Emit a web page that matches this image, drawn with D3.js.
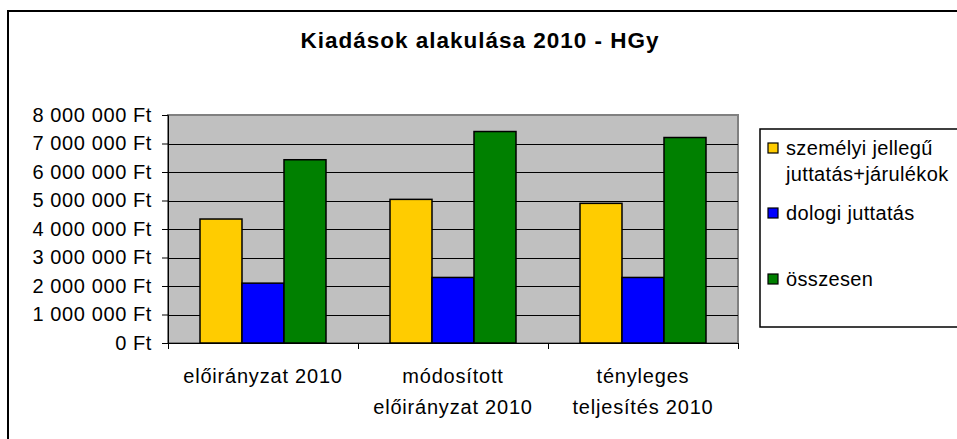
<!DOCTYPE html>
<html>
<head>
<meta charset="utf-8">
<script src="https://cdn.jsdelivr.net/npm/d3@7"></script>
<style>
  body { margin: 0; background: #fff; }
  svg { display: block; font-family: "Liberation Sans", Arial, sans-serif; }
</style>
</head>
<body>
<div id="chart"></div>
<script>
// data
var categories = [["előirányzat 2010"], ["módosított", "előirányzat 2010"], ["tényleges", "teljesítés 2010"]];
var seriesNames = [["személyi jellegű", "juttatás+járulékok"], ["dologi juttatás"], ["összesen"]];
var seriesColors = ["#ffcc00", "#0000ff", "#008000"];
var szemelyi = [4350000, 5040000, 4900000];
var dologi = [2100000, 2300000, 2300000];
var osszesen = [6430000, 7420000, 7210000];
var yTicks = [0, 1000000, 2000000, 3000000, 4000000, 5000000, 6000000, 7000000, 8000000];

var series = [szemelyi, dologi, osszesen];

var W = 957, H = 439;
var plot = { left: 168, top: 115, right: 738, bottom: 343 };

var svg = d3.select("#chart").append("svg")
    .attr("width", W)
    .attr("height", H);

// outer chart frame
svg.append("rect")
    .attr("x", 8).attr("y", 11)
    .attr("width", W + 20).attr("height", H + 20)
    .attr("fill", "#fff")
    .attr("stroke", "#000")
    .attr("stroke-width", 2);

// title
svg.append("text")
    .attr("x", 480).attr("y", 48)
    .attr("text-anchor", "middle")
    .attr("font-size", 22.5)
    .attr("font-weight", "bold")
    .attr("letter-spacing", 1)
    .text("Kiadások alakulása 2010 - HGy");

var x0 = d3.scaleBand()
    .domain(d3.range(categories.length))
    .range([plot.left, plot.right]);

var x1 = d3.scaleBand()
    .domain(d3.range(series.length))
    .range([32, x0.bandwidth() - 32]);

var y = d3.scaleLinear()
    .domain([0, 8000000])
    .range([plot.bottom, plot.top]);

// plot background
svg.append("rect")
    .attr("x", plot.left).attr("y", plot.top)
    .attr("width", plot.right - plot.left)
    .attr("height", plot.bottom - plot.top)
    .attr("fill", "#c0c0c0")
    .attr("stroke", "#808080")
    .attr("stroke-width", 2);

// gridlines
svg.append("g")
    .selectAll("line")
    .data(yTicks.slice(1, -1))
    .enter()
    .append("line")
    .attr("x1", plot.left).attr("x2", plot.right)
    .attr("y1", function (d) { return Math.round(y(d)) + 0.5; })
    .attr("y2", function (d) { return Math.round(y(d)) + 0.5; })
    .attr("stroke", "#000")
    .attr("stroke-width", 1);

// bars
var groups = svg.append("g")
    .selectAll("g")
    .data(categories)
    .enter()
    .append("g")
    .attr("transform", function (d, i) { return "translate(" + x0(i) + ",0)"; });

groups.selectAll("rect")
    .data(function (d, i) { return series.map(function (s, j) { return { s: j, v: s[i] }; }); })
    .enter()
    .append("rect")
    .attr("x", function (d) { return x1(d.s); })
    .attr("y", function (d) { return y(d.v); })
    .attr("width", x1.bandwidth())
    .attr("height", function (d) { return y(0) - y(d.v); })
    .attr("fill", function (d) { return seriesColors[d.s]; })
    .attr("stroke", "#000")
    .attr("stroke-width", 1.5);

// y axis
var yAxis = svg.append("g")
    .attr("transform", "translate(" + plot.left + ",0)")
    .call(d3.axisLeft(y)
        .tickValues(yTicks)
        .tickSize(6)
        .tickPadding(10)
        .tickFormat(function (d) { return d3.format(",")(d).replace(/,/g, " ") + " Ft"; }));
yAxis.select(".domain").attr("stroke", "#000");
yAxis.selectAll("text")
    .attr("font-family", "Liberation Sans, Arial, sans-serif")
    .attr("font-size", 20)
    .attr("letter-spacing", 0.6)
    .attr("fill", "#000");

// x axis: ticks on category boundaries
var xAxis = svg.append("g")
    .attr("transform", "translate(0," + plot.bottom + ")");
xAxis.append("line")
    .attr("x1", plot.left).attr("x2", plot.right)
    .attr("y1", 0.5).attr("y2", 0.5)
    .attr("stroke", "#000");
xAxis.selectAll("line.tick")
    .data(d3.range(categories.length + 1))
    .enter()
    .append("line")
    .attr("class", "tick")
    .attr("x1", function (d) { return Math.round(plot.left + d * x0.step()) + 0.5; })
    .attr("x2", function (d) { return Math.round(plot.left + d * x0.step()) + 0.5; })
    .attr("y1", 0).attr("y2", 6)
    .attr("stroke", "#000");

xAxis.selectAll("text")
    .data(categories)
    .enter()
    .append("text")
    .attr("text-anchor", "middle")
    .attr("font-size", 20)
    .attr("letter-spacing", 0.8)
    .attr("transform", function (d, i) { return "translate(" + (x0(i) + x0.bandwidth() / 2) + ",0)"; })
    .selectAll("tspan")
    .data(function (d) { return d; })
    .enter()
    .append("tspan")
    .attr("x", 0)
    .attr("y", function (d, i) { return 40 + i * 31; })
    .text(function (d) { return d; });

// legend
var legend = svg.append("g");
legend.append("rect")
    .attr("x", 760).attr("y", 129)
    .attr("width", 230).attr("height", 198)
    .attr("fill", "#fff")
    .attr("stroke", "#000")
    .attr("stroke-width", 1.5);

var legendY = [143, 208, 274];
var items = legend.selectAll("g.item")
    .data(seriesNames)
    .enter()
    .append("g")
    .attr("class", "item")
    .attr("transform", function (d, i) { return "translate(768," + legendY[i] + ")"; });

items.append("rect")
    .attr("width", 10).attr("height", 10)
    .attr("fill", function (d, i) { return seriesColors[i]; })
    .attr("stroke", "#000")
    .attr("stroke-width", 1.2);

items.append("text")
    .attr("font-size", 20)
    .attr("letter-spacing", 0.35)
    .selectAll("tspan")
    .data(function (d) { return d; })
    .enter()
    .append("tspan")
    .attr("x", 18)
    .attr("y", function (d, i) { return 12 + i * 26; })
    .text(function (d) { return d; });
</script>
</body>
</html>
